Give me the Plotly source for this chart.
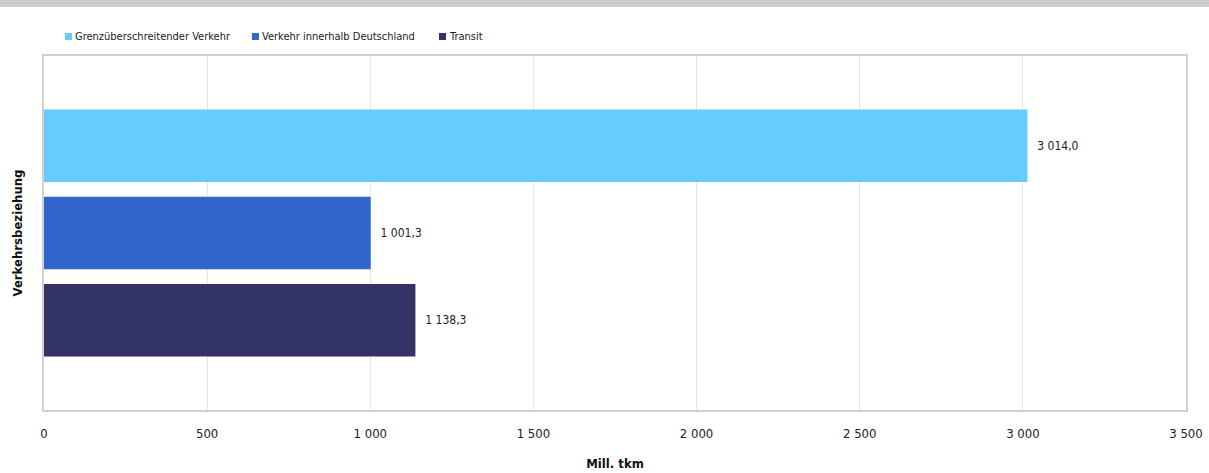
import plotly.graph_objects as go

series_names = ["Grenzüberschreitender Verkehr", "Verkehr innerhalb Deutschland", "Transit"]
values = [3014.0, 1001.3, 1138.3]
colors = ["#66ccff", "#3366cc", "#333366"]
category = [""]
tick_vals = [0, 500, 1000, 1500, 2000, 2500, 3000, 3500]

FONT = "DejaVu Sans Condensed, Liberation Sans Narrow, Roboto, sans-serif"

W, H = 1209, 473
ml, mr, mt, mb = 44, 23, 56, 63
pw = W - ml - mr
ph = H - mt - mb

fig = go.Figure()
for name, v, c in zip(series_names, values, colors):
    fig.add_trace(go.Bar(
        name=name, y=category, x=[v], orientation="h",
        marker=dict(color=c, line=dict(width=0)),
        texttemplate="&nbsp;&nbsp;%{x:,.1f}", textposition="outside",
        textfont=dict(size=12, color="#222222", family=FONT),
        cliponaxis=False, showlegend=False,
    ))

# custom legend (pixel layout)
legend_px = [65, 252, 439]
shapes = [dict(type="rect", xref="paper", yref="paper", x0=-ml / pw - 0.01, x1=1 + mr / pw + 0.01,
               y0=1 + (mt - 7) / ph, y1=1 + (mt + 5) / ph, fillcolor="#cccccc", line=dict(width=0), layer="above")]
annotations = []
for name, c, px in zip(series_names, colors, legend_px):
    shapes.append(dict(type="rect", xref="paper", yref="paper",
                       x0=(px - ml) / pw, x1=(px + 7 - ml) / pw,
                       y0=1 + (mt - 40) / ph, y1=1 + (mt - 33) / ph,
                       fillcolor=c, line=dict(width=0)))
    annotations.append(dict(xref="paper", yref="paper", x=(px + 8 - ml) / pw, y=1 + (mt - 36.5) / ph,
                            xanchor="left", yanchor="middle", showarrow=False, text=name,
                            font=dict(size=11, family=FONT, color="#222222")))

fig.update_layout(
    width=W, height=H,
    margin=dict(l=ml, r=mr, t=mt, b=mb, autoexpand=False),
    paper_bgcolor="white", plot_bgcolor="white",
    separators=", ",
    barmode="group", bargap=0.26, bargroupgap=0.17,
    font=dict(family=FONT, size=12, color="#222222"),
    showlegend=False,
    xaxis=dict(range=[0, 3500], tickvals=tick_vals, tickformat=",d",
               showgrid=True, gridcolor="#e6e6e6", gridwidth=1,
               showline=True, linecolor="#d0d0d0", linewidth=2, mirror=True,
               zeroline=False, ticks="", ticklen=0, ticklabelstandoff=10, automargin=False,
               tickfont=dict(size=13, family=FONT, color="#222222"),
               title=dict(text="<b>Mill. tkm</b>", font=dict(size=13, family=FONT, color="#111111"), standoff=19)),
    yaxis=dict(autorange="reversed", showticklabels=False, showgrid=False, automargin=False,
               showline=True, linecolor="#d0d0d0", linewidth=2, mirror=True, ticks="",
               title=dict(text="<b>Verkehrsbeziehung</b>", font=dict(size=13, family=FONT, color="#111111"), standoff=16)),
    shapes=shapes,
    annotations=annotations,
)

fig.write_html("out.html", config={"displayModeBar": False},
               post_script="document.body.style.margin='0px';")
